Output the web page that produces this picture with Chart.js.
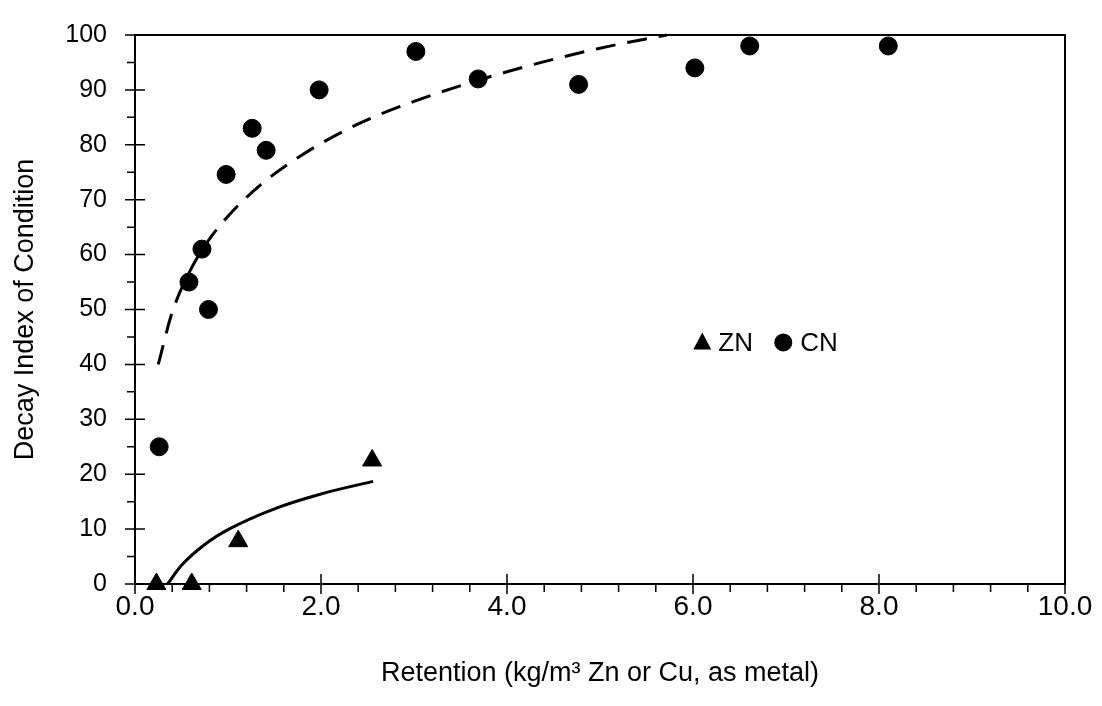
<!DOCTYPE html>
<html>
<head>
<meta charset="utf-8">
<script src="https://cdn.jsdelivr.net/npm/chart.js@4/dist/chart.umd.min.js"></script>
<style>
  html, body { margin: 0; padding: 0; background: #fff; }
  #wrap { width: 1102px; height: 706px; }
</style>
</head>
<body>
<div id="wrap"><canvas id="canvas" width="1102" height="706"></canvas></div>
<script>
// CN points (circles)
var cnX = [0.26, 0.58, 0.72, 0.79, 0.98, 1.26, 1.41, 1.98, 3.02, 3.69, 4.77, 6.02, 6.61, 8.1];
var cnY = [25, 55, 61, 50, 74.6, 83, 79, 90, 97, 92, 91, 94, 98, 98];
// ZN points (triangles)
var znX = [0.23, 0.61, 1.11, 2.55];
var znY = [0, 0, 7.8, 22.5];
// fitted curves
var cnFitX = [0.25, 0.4, 0.6, 0.8, 1.0, 1.35, 1.8, 2.4, 3.0, 4.0, 5.0, 5.72];
var cnFitY = [40, 49.5, 57.3, 62.8, 67, 72.7, 78.2, 83.8, 87.9, 93.3, 97.6, 100];
var znFitX = [0.35, 0.5, 0.75, 1.0, 1.5, 2.0, 2.56];
var znFitY = [0, 3.4, 7.2, 9.9, 13.7, 16.4, 18.7];
var xTicks = [0, 2, 4, 6, 8, 10];
var yTicks = [0, 10, 20, 30, 40, 50, 60, 70, 80, 90, 100];
var legendLabels = ['ZN', 'CN'];

function pts(xs, ys) {
  return xs.map(function (x, i) { return { x: x, y: ys[i] }; });
}

var FONT = '"Liberation Sans", Arial, sans-serif';

// box frame, crossing major ticks, minor ticks and the in-plot legend
var frameTicks = {
  id: 'frameTicks',
  afterDraw: function (chart) {
    var ctx = chart.ctx, a = chart.chartArea;
    var xs = chart.scales.x, ys = chart.scales.y;
    ctx.save();
    ctx.strokeStyle = '#000';
    ctx.lineWidth = 2;
    ctx.beginPath();
    ctx.moveTo(a.left, a.top); ctx.lineTo(a.right, a.top); ctx.lineTo(a.right, a.bottom);
    ctx.stroke();
    ctx.lineWidth = 1.5;
    ctx.beginPath();
    for (var i = 0; i <= 20; i++) {
      var py = ys.getPixelForValue(i * 5);
      if (i % 2 === 0) { ctx.moveTo(a.left - 10, py); ctx.lineTo(a.left + 10, py); }
      else { ctx.moveTo(a.left - 8, py); ctx.lineTo(a.left, py); }
    }
    for (var j = 0; j <= 25; j++) {
      var px = xs.getPixelForValue(j * 0.4);
      if (j % 5 === 0) { ctx.moveTo(px, a.bottom - 10); ctx.lineTo(px, a.bottom + 10); }
      else { ctx.moveTo(px, a.bottom); ctx.lineTo(px, a.bottom + 8); }
    }
    ctx.stroke();

    // legend
    var lx = xs.getPixelForValue(6.1), ly = ys.getPixelForValue(44);
    ctx.fillStyle = '#000';
    ctx.beginPath();
    ctx.moveTo(lx, ly - 10); ctx.lineTo(lx + 9, ly + 7); ctx.lineTo(lx - 9, ly + 7); ctx.closePath();
    ctx.fill();
    ctx.font = '26px ' + FONT;
    ctx.textBaseline = 'middle';
    ctx.fillText(legendLabels[0], lx + 16, ly + 1);
    ctx.beginPath();
    ctx.arc(lx + 81, ly, 9, 0, Math.PI * 2);
    ctx.fill();
    ctx.fillText(legendLabels[1], lx + 98, ly + 1);
    ctx.restore();
  }
};

new Chart(document.getElementById('canvas').getContext('2d'), {
  type: 'scatter',
  data: {
    datasets: [{
      label: 'CN fit',
      data: pts(cnFitX, cnFitY),
      showLine: true,
      borderColor: '#000',
      borderWidth: 3,
      borderDash: [20, 12],
      pointRadius: 0,
      cubicInterpolationMode: 'monotone'
    }, {
      label: 'ZN fit',
      data: pts(znFitX, znFitY),
      showLine: true,
      borderColor: '#000',
      borderWidth: 3,
      pointRadius: 0,
      cubicInterpolationMode: 'monotone'
    }, {
      label: 'CN',
      data: pts(cnX, cnY),
      pointStyle: 'circle',
      pointRadius: 9,
      backgroundColor: '#000',
      borderColor: '#000'
    }, {
      label: 'ZN',
      data: pts(znX, znY),
      pointStyle: 'triangle',
      pointRadius: 11,
      backgroundColor: '#000',
      borderColor: '#000'
    }]
  },
  options: {
    responsive: false,
    animation: false,
    clip: false,
    layout: { padding: { left: 5, right: 37, top: 14, bottom: 0 } },
    plugins: { legend: { display: false }, tooltip: { enabled: false } },
    scales: {
      x: {
        type: 'linear', min: 0, max: 10,
        afterBuildTicks: function (s) { s.ticks = xTicks.map(function (v) { return { value: v }; }); },
        afterFit: function (s) { s.height = 122; },
        grid: { display: false, drawTicks: false },
        border: { display: true, color: '#000', width: 2 },
        ticks: {
          color: '#000', font: { family: FONT, size: 28 }, padding: 6,
          maxRotation: 0,
          callback: function (v) { return Number(v).toFixed(1); }
        },
        title: {
          display: true, text: 'Retention (kg/m\u00B3 Zn or Cu, as metal)',
          color: '#000', font: { family: FONT, size: 27 }, padding: { top: 4, bottom: 16 }
        }
      },
      y: {
        type: 'linear', min: 0, max: 100,
        afterBuildTicks: function (s) { s.ticks = yTicks.map(function (v) { return { value: v }; }); },
        afterFit: function (s) { s.width = 130; },
        grid: { display: false },
        border: { display: true, color: '#000', width: 2 },
        ticks: { color: '#000', font: { family: FONT, size: 25 }, padding: 20 },
        title: {
          display: true, text: 'Decay Index of Condition',
          color: '#000', font: { family: FONT, size: 27 }, padding: { bottom: 0 }
        }
      }
    }
  },
  plugins: [frameTicks]
});
</script>
</body>
</html>
